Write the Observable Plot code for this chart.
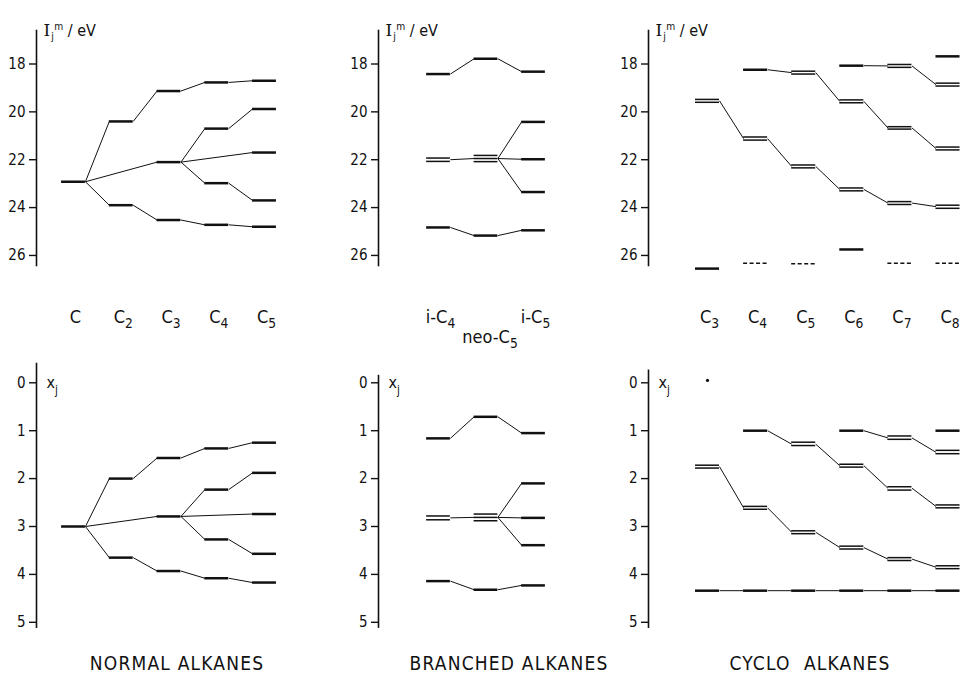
<!DOCTYPE html>
<html>
<head>
<meta charset="utf-8">
<script src="https://cdn.jsdelivr.net/npm/d3@7"></script>
<script src="https://cdn.jsdelivr.net/npm/@observablehq/plot@0.6"></script>
<style>
  html, body { margin: 0; padding: 0; background: #fff; }
  #fig { position: relative; width: 966px; height: 674px; overflow: hidden; background: #fff; }
  #fig svg { position: absolute; }
  .ttl { position: absolute; top: 654px; transform: translateX(-50%); white-space: pre;
         font-family: 'DejaVu Sans Condensed', 'DejaVu Sans', sans-serif; font-size: 19px;
         line-height: 19px; letter-spacing: 1.2px; color: #111; }
</style>
</head>
<body>
<div id="fig"></div>
<script>
// ---------- categories / labels ----------
const normalCats = ["C", "C₂", "C₃", "C₄", "C₅"];
const branchedCats = ["i-C₄", "neo-C₅", "i-C₅"];
const cycloCats = ["C₃", "C₄", "C₅", "C₆", "C₇", "C₈"];
const topTicks = [18, 20, 22, 24, 26];
const botTicks = [0, 1, 2, 3, 4, 5];
const topAxisLabel = "Iⱼᵐ / eV";
const botAxisLabel = "xⱼ";
const panelTitles = ["NORMAL ALKANES", "BRANCHED ALKANES", "CYCLO  ALKANES"];

// ---------- NORMAL ALKANES: I_j^m / eV ----------
const normalTopLevels = [[0,22.92],[1,20.4],[1,23.9],[2,19.13],[2,22.1],[2,24.52],[3,18.77],[3,20.7],[3,22.98],[3,24.72],[4,18.7],[4,19.88],[4,21.7],[4,23.7],[4,24.8]];
const normalTopChains = [
  [[0,22.92],[1,20.4],[2,19.13],[3,18.77],[4,18.7]],
  [[0,22.92],[1,23.9],[2,24.52],[3,24.72],[4,24.8]],
  [[0,22.92],[2,22.1],[3,20.7],[4,19.88]],
  [[2,22.1],[4,21.7]],
  [[2,22.1],[3,22.98],[4,23.7]]
];
// ---------- NORMAL ALKANES: x_j ----------
const normalBotLevels = [[0,3.0],[1,2.0],[1,3.65],[2,1.57],[2,2.79],[2,3.93],[3,1.37],[3,2.23],[3,3.27],[3,4.08],[4,1.25],[4,1.88],[4,2.74],[4,3.57],[4,4.17]];
const normalBotChains = [
  [[0,3.0],[1,2.0],[2,1.57],[3,1.37],[4,1.25]],
  [[0,3.0],[1,3.65],[2,3.93],[3,4.08],[4,4.17]],
  [[0,3.0],[2,2.79],[3,2.23],[4,1.88]],
  [[2,2.79],[4,2.74]],
  [[2,2.79],[3,3.27],[4,3.57]]
];

// ---------- BRANCHED ALKANES: I_j^m / eV ----------
const branchedTopLevels = [[0,18.42],[0,24.83],[1,17.78],[1,25.17],[2,18.32],[2,20.42],[2,21.98],[2,23.35],[2,24.95]];
const branchedTopMultiplets = [[0,[21.93,22.07]],[1,[21.82,21.95,22.08]]];
const branchedTopChains = [
  [[0,18.42],[1,17.78],[2,18.32]],
  [[0,24.83],[1,25.17],[2,24.95]],
  [[0,22.0],[1,21.95],[2,20.42]],
  [[1,21.95],[2,21.98]],
  [[1,21.95],[2,23.35]]
];
// ---------- BRANCHED ALKANES: x_j ----------
const branchedBotLevels = [[0,1.16],[0,4.14],[1,0.71],[1,4.32],[2,1.05],[2,2.1],[2,2.82],[2,3.39],[2,4.23]];
const branchedBotMultiplets = [[0,[2.78,2.86]],[1,[2.74,2.81,2.88]]];
const branchedBotChains = [
  [[0,1.16],[1,0.71],[2,1.05]],
  [[0,4.14],[1,4.32],[2,4.23]],
  [[0,2.82],[1,2.81],[2,2.1]],
  [[1,2.81],[2,2.82]],
  [[1,2.81],[2,3.39]]
];

// ---------- CYCLO ALKANES: I_j^m / eV ----------
const cycloTopLevels = [[0,26.55],[1,18.24],[3,18.07],[3,25.75],[5,17.68]];
const cycloTopMultiplets = [[0,[19.48,19.6]],[1,[21.05,21.18]],[2,[18.3,18.42]],[2,[22.22,22.34]],[3,[19.5,19.62]],[3,[23.18,23.3]],[4,[18.02,18.14]],[4,[20.62,20.72]],[4,[23.75,23.87]],[5,[18.8,18.92]],[5,[21.47,21.59]],[5,[23.9,24.03]]];
const cycloTopDashed = [[1,26.33],[2,26.35],[4,26.33],[5,26.33]];
const cycloTopChains = [
  [[0,19.54],[1,21.12],[2,22.28],[3,23.24],[4,23.81],[5,23.96]],
  [[1,18.24],[2,18.36],[3,19.56],[4,20.67],[5,21.53]],
  [[3,18.07],[4,18.08],[5,18.86]]
];
// ---------- CYCLO ALKANES: x_j ----------
const cycloBotLevels = [[1,1.0],[3,1.0],[5,1.0],[0,4.34],[1,4.34],[2,4.34],[3,4.34],[4,4.34],[5,4.34]];
const cycloBotMultiplets = [[0,[1.72,1.78]],[1,[2.58,2.64]],[2,[1.24,1.31]],[2,[3.09,3.15]],[3,[1.7,1.76]],[3,[3.41,3.47]],[4,[1.11,1.18]],[4,[2.17,2.24]],[4,[3.65,3.71]],[5,[1.41,1.48]],[5,[2.55,2.61]],[5,[3.82,3.88]]];
const cycloBotChains = [
  [[0,1.75],[1,2.61],[2,3.12],[3,3.44],[4,3.68],[5,3.85]],
  [[1,1.0],[2,1.28],[3,1.73],[4,2.2],[5,2.58]],
  [[3,1.0],[4,1.15],[5,1.45]],
  [[0,4.34],[1,4.34],[2,4.34],[3,4.34],[4,4.34],[5,4.34]]
];
const cycloBotDots = [[0,-0.05]];

// ---------- drawing ----------
const FONT = "'DejaVu Sans Condensed', 'DejaVu Sans', sans-serif";
const INK = "#111";
const HW = 0.25; // half width of a level bar (category units)

function panel(o) {
  const levels = (o.levels || []).map(([c, v]) => ({c, v}));
  const multi = (o.multiplets || []).flatMap(([c, vs]) => vs.map(v => ({c, v})));
  const dashed = (o.dashed || []).map(([c, v]) => ({c, v}));
  const links = (o.chains || []).flatMap(ch => d3.pairs(ch).map(([a, b]) => ({c1: a[0], v1: a[1], c2: b[0], v2: b[1]})));
  const marks = [
    Plot.frame({anchor: "left", stroke: INK, strokeWidth: 1.6}),
    Plot.axisY({ticks: o.ticks, tickSize: 7, tickPadding: 4, fontSize: 15, label: null, stroke: INK, strokeWidth: 1.4, tickFormat: d => String(d)}),
    Plot.link(links, {x1: d => d.c1 + HW, y1: "v1", x2: d => d.c2 - HW, y2: "v2", stroke: INK, strokeWidth: 1}),
    Plot.ruleY(levels, {y: "v", x1: d => d.c - HW, x2: d => d.c + HW, stroke: INK, strokeWidth: 2.5}),
    Plot.ruleY(multi, {y: "v", x1: d => d.c - HW, x2: d => d.c + HW, stroke: INK, strokeWidth: 1.5}),
    Plot.ruleY(dashed, {y: "v", x1: d => d.c - HW, x2: d => d.c + HW, stroke: INK, strokeWidth: 1.5, strokeDasharray: "4,2.5"})
  ];
  if (o.dots) marks.push(Plot.dot(o.dots, {x: d => d[0], y: d => d[1], r: 1.6, fill: INK, stroke: null}));
  if (o.cats) {
    const all = o.cats.map((t, i) => ({t, i}));
    marks.push(Plot.text(all.filter(d => !d.t.startsWith("neo")), {x: "i", text: "t", frameAnchor: "bottom", dy: 57, dx: 2, fontSize: 18, fill: INK}));
    marks.push(Plot.text(all.filter(d => d.t.startsWith("neo")), {x: "i", text: "t", frameAnchor: "bottom", dy: 77, dx: 4, fontSize: 18, fill: INK}));
  }
  if (o.kind === "top") {
    marks.push(Plot.text([topAxisLabel], {frameAnchor: "top-left", dx: 7, dy: -5.5, textAnchor: "start", fontSize: 16, fill: INK}));
  } else {
    marks.push(Plot.text([botAxisLabel], {y: () => 0, frameAnchor: "left", dx: 10, textAnchor: "start", fontSize: 16, fill: INK}));
  }
  const svg = Plot.plot({
    width: o.width, height: o.height,
    marginLeft: o.marginLeft, marginRight: 0, marginTop: o.marginTop, marginBottom: o.marginBottom,
    style: {background: "transparent", fontFamily: FONT, overflow: "visible", color: INK},
    x: {type: "linear", domain: [0, o.n - 1], range: o.xRange, axis: null},
    y: {type: "linear", domain: o.yDomain, reverse: true, axis: null},
    marks
  });
  svg.style.left = o.left + "px";
  svg.style.top = o.top + "px";
  return svg;
}

// turn unicode sub/superscript characters into real SVG tspans
const SUB = {"₀":"0","₁":"1","₂":"2","₃":"3","₄":"4","₅":"5","₆":"6","₇":"7","₈":"8","₉":"9","ⱼ":"j"};
const SUP = {"ᵐ":"m"};
function richify(svg) {
  d3.select(svg).selectAll("text").each(function() {
    const s = this.textContent;
    const chars = [...s];
    if (!chars.some(ch => SUB[ch] || SUP[ch])) return;
    const fs = parseFloat(getComputedStyle(this).fontSize) || 16;
    const isLabel = chars.some(ch => SUP[ch]);
    const isXj = !isLabel && s.startsWith("x");
    const p = isLabel ? {size: 0.64, sub: 0.22, sup: -0.42}
            : isXj ? {size: 0.72, sub: 0.36, sup: 0}
            : {size: 0.76, sub: 0.3, sup: 0};
    const runs = [];
    for (const ch of chars) {
      const kind = SUB[ch] ? "sub" : SUP[ch] ? "sup" : "base";
      const c = SUB[ch] || SUP[ch] || ch;
      if (runs.length && runs[runs.length - 1].kind === kind) runs[runs.length - 1].t += c;
      else runs.push({kind, t: c});
    }
    const sel = d3.select(this);
    sel.text(null);
    let offset = 0;
    runs.forEach((r, k) => {
      const target = (r.kind === "sub" ? p.sub : r.kind === "sup" ? p.sup : 0) * fs;
      const ts = sel.append("tspan").text(r.t).attr("dy", target - offset);
      offset = target;
      if (r.kind !== "base") ts.attr("font-size", p.size * fs);
      if (isLabel && k === 0) ts.attr("font-family", "'DejaVu Serif', serif").attr("font-size", fs + 1);
      if (isLabel && r.kind === "sub") ts.attr("dx", 1);
      if (isLabel && r.kind === "sup") ts.attr("dx", 0.5);
    });
  });
}

const fig = document.getElementById("fig");
const cols = [
  {left: 0,   width: 300, marginLeft: 36, xRange: [73, 264],    n: 5},
  {left: 330, width: 250, marginLeft: 48, xRange: [108, 203],   n: 3},
  {left: 600, width: 366, marginLeft: 48, xRange: [107, 347.5], n: 6}
];
const topData = [
  {levels: normalTopLevels, chains: normalTopChains, cats: normalCats},
  {levels: branchedTopLevels, multiplets: branchedTopMultiplets, chains: branchedTopChains, cats: branchedCats},
  {levels: cycloTopLevels, multiplets: cycloTopMultiplets, dashed: cycloTopDashed, chains: cycloTopChains, cats: cycloCats}
];
const botData = [
  {levels: normalBotLevels, chains: normalBotChains, y0: -0.4},
  {levels: branchedBotLevels, multiplets: branchedBotMultiplets, chains: branchedBotChains, y0: -0.15},
  {levels: cycloBotLevels, multiplets: cycloBotMultiplets, chains: cycloBotChains, dots: cycloBotDots, y0: -0.26}
];
cols.forEach((c, k) => {
  const t = panel({...c, ...topData[k], kind: "top", top: 0, height: 360,
    marginTop: 30, marginBottom: 95, yDomain: [16.6, 26.42], ticks: topTicks});
  fig.appendChild(t); richify(t);
  const b = botData[k];
  const yPx = v => 382.3 + 47.9 * v;
  const s = panel({...c, ...b, kind: "bot", top: 340, height: 300,
    marginTop: yPx(b.y0) - 340, marginBottom: 640 - yPx(5.1), yDomain: [b.y0, 5.1], ticks: botTicks});
  fig.appendChild(s); richify(s);
});
const titleCenters = [177, 509, 810];
panelTitles.forEach((t, k) => {
  const d = document.createElement("div");
  d.className = "ttl";
  d.textContent = t;
  d.style.left = titleCenters[k] + "px";
  fig.appendChild(d);
});
</script>
</body>
</html>
